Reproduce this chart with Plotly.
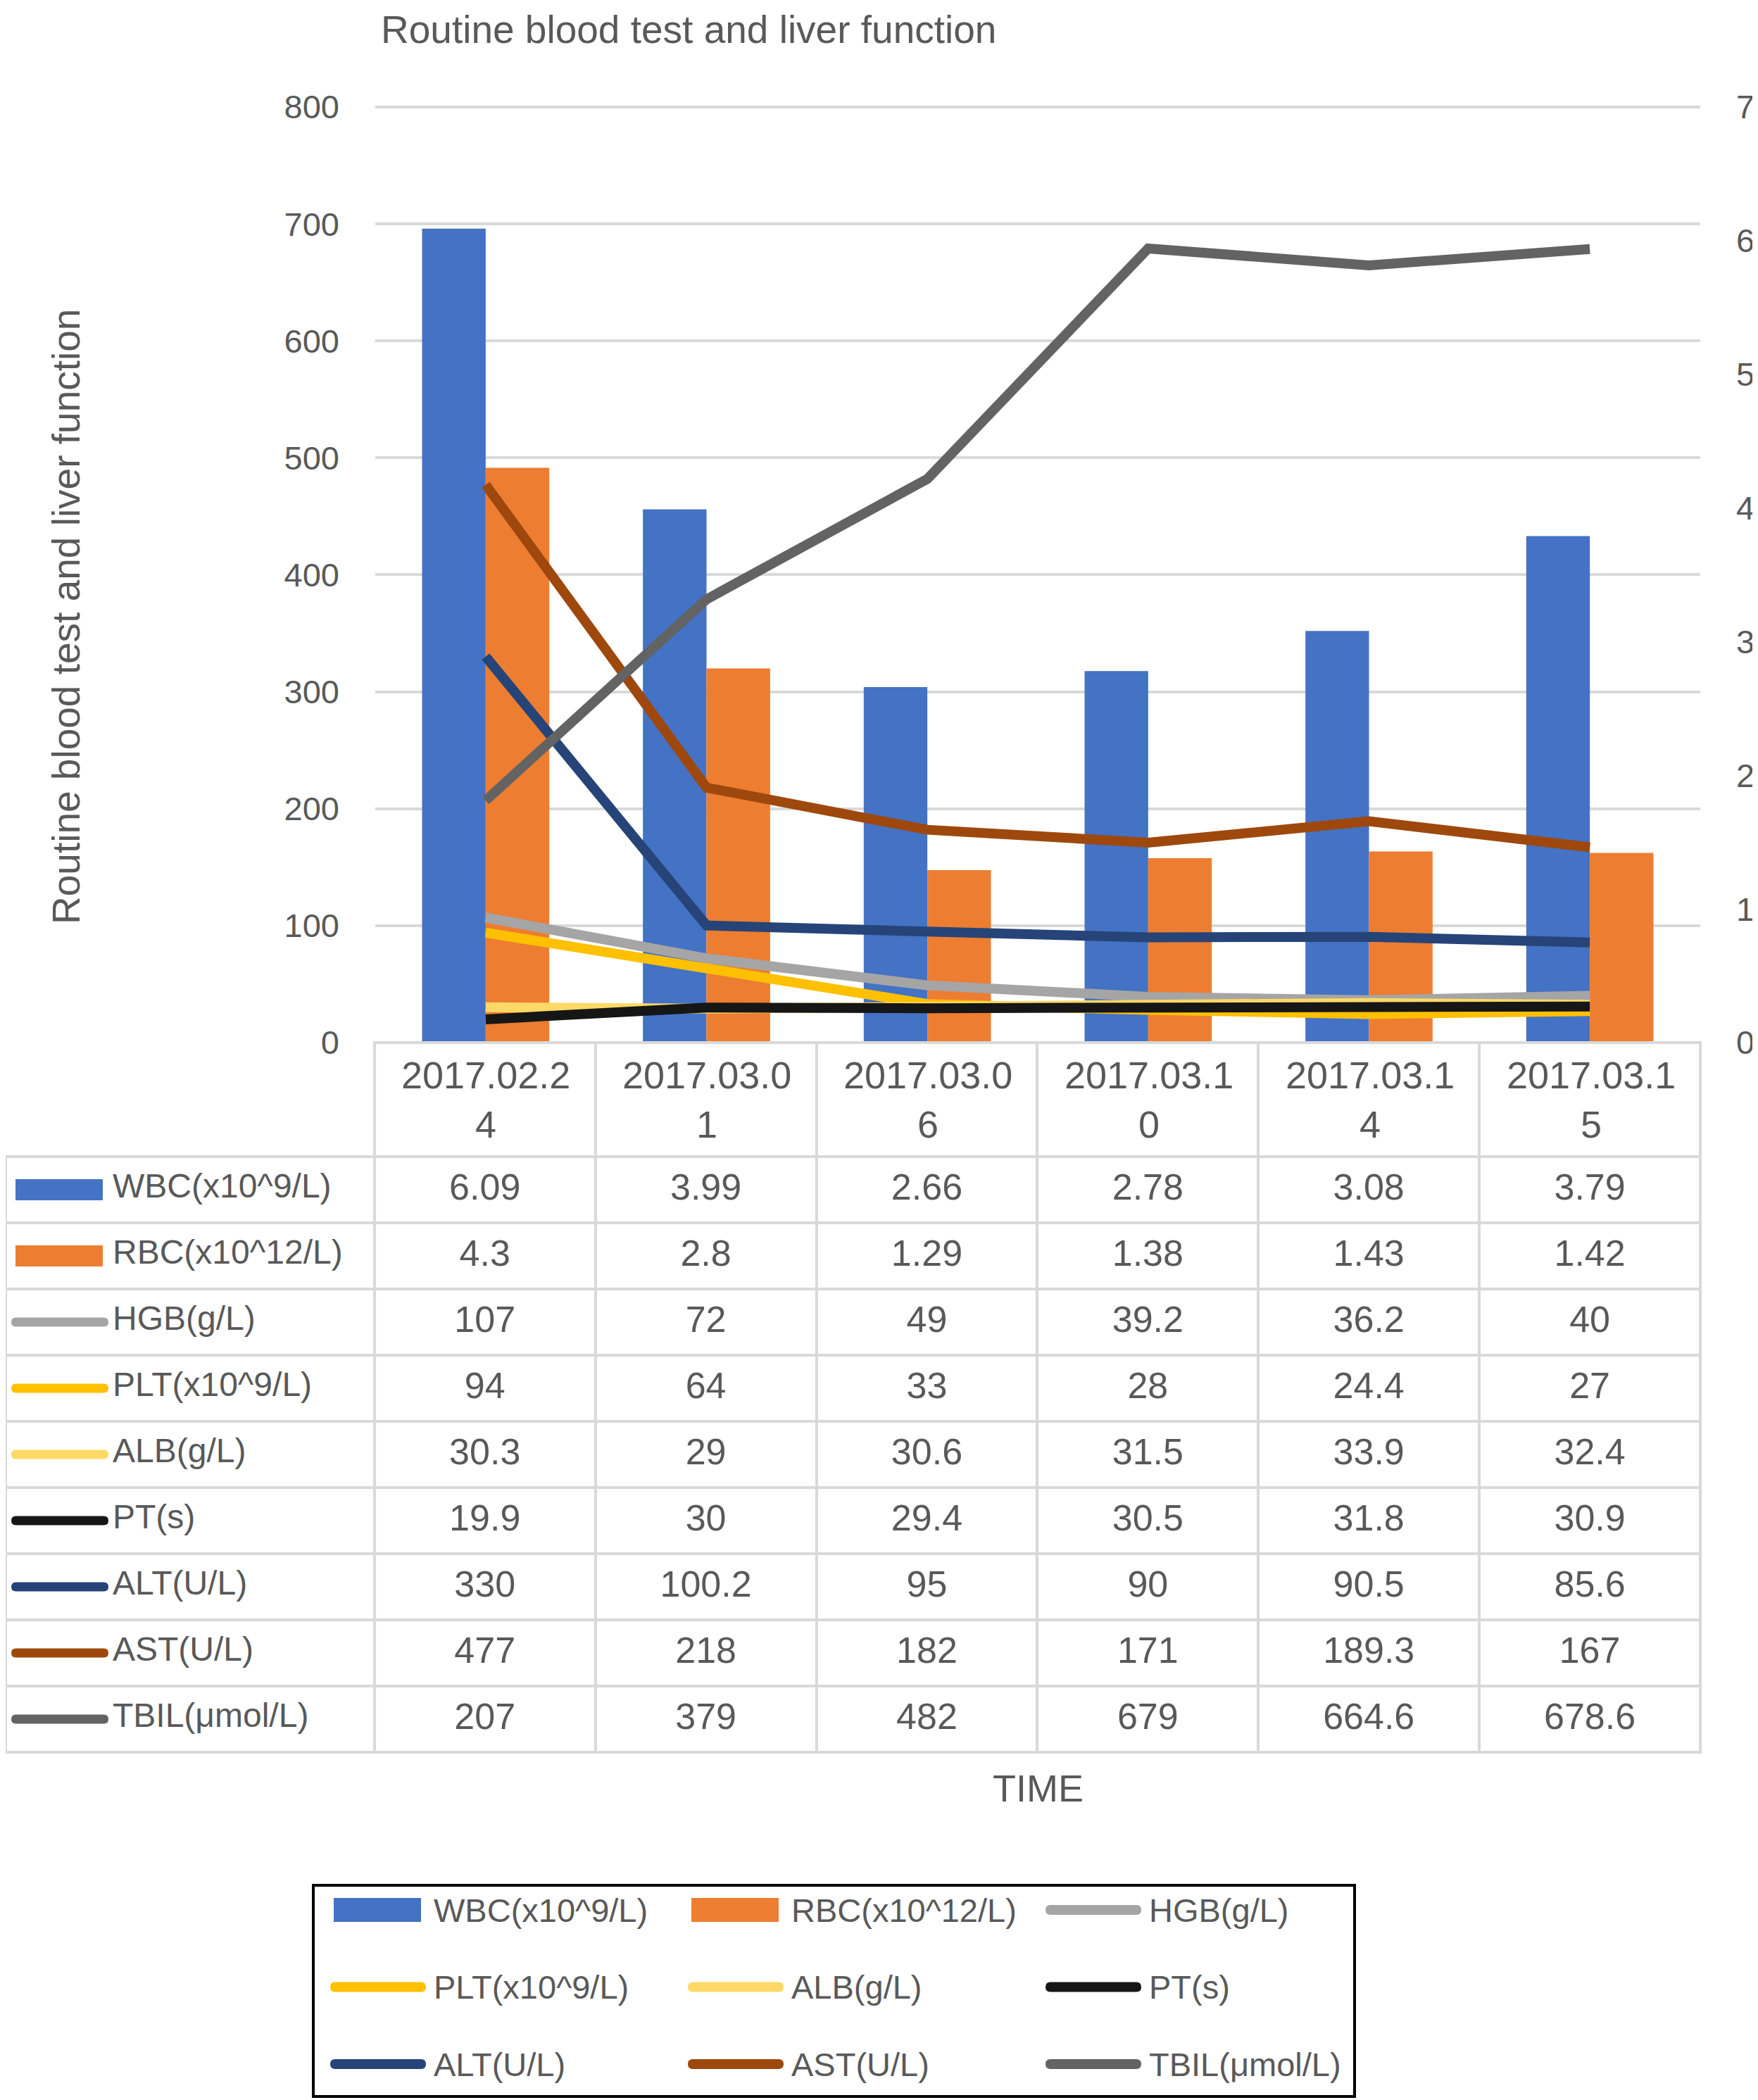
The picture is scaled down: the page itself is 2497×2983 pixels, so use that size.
import plotly.graph_objects as go

# sampling dates
dates = ["2017.02.24", "2017.03.01", "2017.03.06", "2017.03.10", "2017.03.14", "2017.03.15"]

# bar series (right axis)
wbc = [6.09, 3.99, 2.66, 2.78, 3.08, 3.79]
rbc = [4.3, 2.8, 1.29, 1.38, 1.43, 1.42]

# line series (left axis)
hgb = [107, 72, 49, 39.2, 36.2, 40]
plt_vals = [94, 64, 33, 28, 24.4, 27]
alb = [30.3, 29, 30.6, 31.5, 33.9, 32.4]
pt = [19.9, 30, 29.4, 30.5, 31.8, 30.9]
alt = [330, 100.2, 95, 90, 90.5, 85.6]
ast = [477, 218, 182, 171, 189.3, 167]
tbil = [207, 379, 482, 679, 664.6, 678.6]

bar_names = ["WBC(x10^9/L)", "RBC(x10^12/L)"]
bar_colors = ["#4472C4", "#ED7D31"]
bar_data = [wbc, rbc]

line_names = ["HGB(g/L)", "PLT(x10^9/L)", "ALB(g/L)", "PT(s)", "ALT(U/L)", "AST(U/L)", "TBIL(μmol/L)"]
line_colors = ["#A5A5A5", "#FFC000", "#FFD966", "#161616", "#264478", "#9E480E", "#636363"]
line_data = [hgb, plt_vals, alb, pt, alt, ast, tbil]

W, H = 2497, 2983
OFF = 8  # page body margin
FW, FH = W - OFF, H - OFF
FONT = "Liberation Sans, Arial, sans-serif"
GREY = "#595959"
LINE_GREY = "#D9D9D9"
CLEAR = "rgba(0,0,0,0)"


def px(x):
    return (x - OFF) / FW


def py(y):
    return 1 - (y - OFF) / FH


def pill(x0, x1, yc, r):
    # rounded line key as a closed path (paper coords)
    pts = "M{},{} L{},{} Q{},{} {},{} Q{},{} {},{} L{},{} Q{},{} {},{} Q{},{} {},{} Z"
    return pts.format(px(x0 + r), py(yc - r), px(x1 - r), py(yc - r),
                      px(x1), py(yc - r), px(x1), py(yc),
                      px(x1), py(yc + r), px(x1 - r), py(yc + r),
                      px(x0 + r), py(yc + r),
                      px(x0), py(yc + r), px(x0), py(yc),
                      px(x0), py(yc - r), px(x0 + r), py(yc - r))


# plot area / table geometry (screen pixels)
PL, PR, PT_, PB = 533, 2415, 152, 1481
HEAD_H, ROW_H = 162, 94
FIRST_W, COL_W = 532 - OFF, 314
TEXT_SHIFT = 14  # table text sits at the top of its cell; push it to the middle
k = (PB - PT_) / 800.0  # pixels per left-axis unit

fig = go.Figure()

for name, col, vals in zip(bar_names, bar_colors, bar_data):
    fig.add_trace(go.Bar(x=dates, y=vals, name=name, marker=dict(color=col, line=dict(width=0)),
                         yaxis="y", showlegend=False))

for name, col, vals in zip(line_names, line_colors, line_data):
    fig.add_trace(go.Scatter(x=dates, y=vals, name=name, mode="lines",
                             line=dict(color=col, width=14), yaxis="y2", showlegend=False))

# data table under the plot
all_names = bar_names + line_names
all_data = bar_data + line_data
all_colors = bar_colors + line_colors
ncol = len(dates) + 1
widths = [FIRST_W] + [COL_W] * len(dates)

# grid of the table
fig.add_trace(go.Table(
    domain=dict(x=[0, px(PR)], y=[py(2700), py(PB)]),
    columnwidth=widths,
    header=dict(values=[""] * ncol, height=HEAD_H,
                fill=dict(color=[CLEAR] + ["white"] * len(dates)),
                line=dict(color=[CLEAR] + [LINE_GREY] * len(dates), width=4)),
    cells=dict(values=[[""] * len(all_names)] * ncol, height=ROW_H,
               fill=dict(color="white"), line=dict(color=LINE_GREY, width=4)),
))

# values of the table
label_col = ["\u2003\u2003\u2003" + n for n in all_names]
value_cols = [[series[j] for series in all_data] for j in range(len(dates))]
fig.add_trace(go.Table(
    domain=dict(x=[0, px(PR)], y=[py(2700), py(PB + TEXT_SHIFT)]),
    columnwidth=widths,
    header=dict(values=[""] * ncol, height=HEAD_H,
                fill=dict(color=CLEAR), line=dict(color=CLEAR, width=0)),
    cells=dict(values=[label_col] + value_cols, height=ROW_H,
               align=["left"] + ["center"] * len(dates),
               font=dict(family=FONT, size=[48] + [52] * len(dates), color=GREY),
               fill=dict(color=CLEAR), line=dict(color=CLEAR, width=0)),
))

shapes = []
annotations = []

# date labels in the table header
for j, d in enumerate(dates):
    annotations.append(dict(text=d[:9] + "<br>" + d[9:], xref="paper", yref="paper",
                            x=px(PL + COL_W * (j + 0.5)), y=py(PB + HEAD_H / 2),
                            xanchor="center", yanchor="middle", align="center", showarrow=False,
                            font=dict(family=FONT, size=54, color=GREY)))

# legend keys inside the table
for i, col in enumerate(all_colors):
    yc = PB + HEAD_H + ROW_H * i + ROW_H / 2
    if i < len(bar_names):
        shapes.append(dict(type="rect", xref="paper", yref="paper", x0=px(22), x1=px(146),
                           y0=py(yc - 15), y1=py(yc + 15), fillcolor=col, line=dict(width=0)))
    else:
        shapes.append(dict(type="path", xref="paper", yref="paper", path=pill(16, 154, yc, 6.5),
                           fillcolor=col, line=dict(width=0)))

# bottom legend box
LX0, LDX, LY0, LDY = 469, 508, 2713, 109.5
shapes.append(dict(type="rect", xref="paper", yref="paper", x0=px(445), x1=px(1924),
                   y0=py(2678), y1=py(2978), line=dict(color="black", width=4),
                   fillcolor=CLEAR))
for i, (name, col) in enumerate(zip(all_names, all_colors)):
    kx = LX0 + LDX * (i % 3)
    ky = LY0 + LDY * (i // 3)
    if i < len(bar_names):
        shapes.append(dict(type="rect", xref="paper", yref="paper", x0=px(kx + 5), x1=px(kx + 129),
                           y0=py(ky - 17), y1=py(ky + 17), fillcolor=col, line=dict(width=0)))
    else:
        shapes.append(dict(type="path", xref="paper", yref="paper", path=pill(kx, kx + 136, ky, 7),
                           fillcolor=col, line=dict(width=0)))
    annotations.append(dict(text=name, xref="paper", yref="paper", x=px(kx + 145), y=py(ky),
                            xanchor="left", yanchor="middle", showarrow=False,
                            font=dict(family=FONT, size=47, color=GREY)))

# axis titles
annotations.append(dict(text="Routine blood test and liver function", xref="paper", yref="paper",
                        x=px(94), y=py(876), textangle=-90, showarrow=False,
                        xanchor="center", yanchor="middle",
                        font=dict(family=FONT, size=55, color=GREY)))
annotations.append(dict(text="TIME", xref="paper", yref="paper", x=px((PL + PR) / 2), y=py(2540),
                        showarrow=False, xanchor="center", yanchor="middle",
                        font=dict(family=FONT, size=54, color=GREY)))

fig.update_layout(
    template="none",
    width=FW, height=FH,
    margin=dict(l=0, r=0, t=0, b=0),
    paper_bgcolor="white", plot_bgcolor="white",
    font=dict(family=FONT, color=GREY),
    title=dict(text="Routine blood test and liver function", x=px(541), xanchor="left",
               xref="paper", y=1 - 14 / FH, yref="container", yanchor="top", pad=dict(t=0),
               font=dict(family=FONT, size=55, color=GREY)),
    barmode="group", bargap=0.424, bargroupgap=0,
    showlegend=False,
    xaxis=dict(domain=[px(PL), px(PR)], type="category", range=[-0.5, len(dates) - 0.5],
               showticklabels=False, showgrid=False, zeroline=False, showline=False, ticks=""),
    yaxis=dict(domain=[py(PB + k), py(PT_ - k)], range=[-7 / 800, 7 * 801 / 800],
               tickvals=list(range(8)), side="right",
               showgrid=False, zeroline=False, showline=False, ticks="",
               ticklabelstandoff=50, tickfont=dict(family=FONT, size=47, color=GREY),
               automargin=False),
    yaxis2=dict(overlaying="y", side="left", range=[-1, 801], tickvals=list(range(0, 801, 100)),
                showgrid=True, gridcolor=LINE_GREY, gridwidth=4, zeroline=False,
                showline=False, ticks="", ticklabelstandoff=50,
                tickfont=dict(family=FONT, size=47, color=GREY), automargin=False),
    shapes=shapes,
    annotations=annotations,
)

fig.write_html("out.html")
